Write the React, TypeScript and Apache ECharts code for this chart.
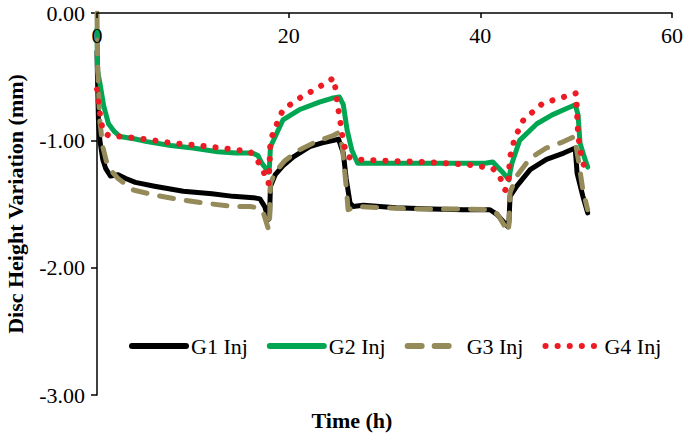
import React, { useEffect, useRef } from "react";
import * as echarts from "echarts";

const FONT = "Liberation Serif";

const xTicks = [0, 20, 40, 60];
const yTicks = [0, -1, -2, -3];

const g1Time = [0, 0.05, 0.15, 0.3, 0.6, 0.9, 1.4, 2.2, 3.0, 4.0, 6, 9, 12, 14.2, 16.3, 17.0, 17.5, 17.9, 18.0, 18.1, 18.6, 19.4, 20.5, 22.2, 23.5, 24.7, 25.2, 25.7, 26.0, 26.4, 26.7, 27.8, 31.2, 35, 38.2, 41.0, 41.7, 42.9, 43.0, 43.1, 43.8, 45.2, 46.9, 48.7, 49.9, 50.1, 50.7, 51.2];
const g1Values = [-0.3, -0.5, -0.84, -1.0, -1.15, -1.22, -1.28, -1.27, -1.3, -1.33, -1.36, -1.4, -1.42, -1.44, -1.45, -1.46, -1.52, -1.62, -1.6, -1.36, -1.27, -1.2, -1.13, -1.05, -1.02, -1.0, -0.99, -1.1, -1.3, -1.49, -1.52, -1.51, -1.53, -1.54, -1.545, -1.545, -1.58, -1.68, -1.62, -1.44, -1.36, -1.23, -1.15, -1.1, -1.06, -1.26, -1.44, -1.57];

const g2Time = [0, 0.05, 0.3, 0.7, 1.2, 1.8, 2.4, 4, 5.2, 7.7, 10, 12.6, 14.5, 16.2, 16.8, 17.2, 17.6, 17.9, 18.0, 18.1, 18.6, 19.4, 21.1, 23.2, 24.5, 25.3, 25.7, 26.1, 26.6, 27.2, 30, 34, 38, 39.6, 40.5, 41.3, 42.2, 43.0, 43.1, 43.3, 44.1, 45.9, 47.5, 48.7, 49.9, 50.2, 50.4, 50.8, 51.2];
const g2Values = [-0.12, -0.45, -0.55, -0.73, -0.87, -0.93, -0.97, -0.99, -1.01, -1.04, -1.06, -1.09, -1.1, -1.1, -1.12, -1.18, -1.22, -1.25, -1.2, -1.05, -0.97, -0.84, -0.76, -0.7, -0.67, -0.66, -0.72, -0.92, -1.08, -1.18, -1.18, -1.18, -1.18, -1.18, -1.18, -1.17, -1.24, -1.31, -1.25, -1.18, -1.0, -0.87, -0.8, -0.76, -0.72, -0.8, -1.02, -1.12, -1.21];

const g3Time = [0, 0.05, 0.15, 0.3, 0.6, 1.0, 1.5, 2.2, 3.8, 6, 9, 12, 14.2, 16.0, 16.8, 17.4, 17.9, 18.0, 18.1, 18.6, 19.6, 21, 22.6, 24.0, 24.7, 25.2, 25.6, 26.0, 26.2, 27.0, 30, 34, 38, 41.0, 41.8, 42.9, 43.0, 43.1, 43.8, 45.2, 46.9, 48.7, 49.8, 50.2, 50.7, 51.2];
const g3Values = [0, -0.3, -0.6, -0.85, -1.05, -1.17, -1.24, -1.3, -1.39, -1.43, -1.47, -1.5, -1.52, -1.52, -1.53, -1.58, -1.7, -1.66, -1.34, -1.25, -1.16, -1.08, -1.02, -0.98, -0.96, -0.94, -1.05, -1.36, -1.545, -1.52, -1.53, -1.54, -1.54, -1.545, -1.58, -1.72, -1.65, -1.41, -1.28, -1.14, -1.06, -1.01, -0.97, -1.14, -1.39, -1.545];

const g4Time = [0, 0.1, 0.4, 0.7, 1.4, 2.5, 5, 7.7, 10.5, 14.2, 16, 16.7, 17.4, 17.9, 18.0, 18.1, 18.6, 19.4, 21.1, 23.2, 24.7, 24.9, 25.3, 25.5, 25.7, 26.2, 27.0, 30, 34, 38.6, 41.3, 42.0, 42.6, 42.9, 43.1, 43.6, 44.5, 46.5, 48.7, 50.0, 50.2, 50.6, 51.1];
const g4Values = [-0.6, -0.66, -0.85, -0.94, -0.97, -0.97, -0.99, -1.02, -1.04, -1.07, -1.09, -1.15, -1.25, -1.34, -1.2, -1.0, -0.9, -0.76, -0.67, -0.58, -0.51, -0.6, -0.82, -0.9, -1.02, -1.13, -1.15, -1.16, -1.17, -1.19, -1.22, -1.28, -1.39, -1.35, -1.13, -0.98, -0.84, -0.71, -0.66, -0.63, -0.96, -1.15, -1.26];

const seriesNames = ["G1 Inj", "G2 Inj", "G3 Inj", "G4 Inj"];

const pair = (t: number[], v: number[]) => t.map((x, i) => [x, v[i]]);

export default function App() {
  const ref = useRef<HTMLDivElement>(null);
  useEffect(() => {
    if (!ref.current) return;
    const chart = echarts.init(ref.current, null, { renderer: "svg" });
    chart.setOption({
      animation: false,
      backgroundColor: "#ffffff",
      textStyle: { fontFamily: FONT },
      grid: { left: 97, top: 13, right: 14, bottom: 46, containLabel: false },
      xAxis: {
        type: "value",
        position: "top",
        z: 10,
        min: xTicks[0],
        max: xTicks[xTicks.length - 1],
        interval: 20,
        axisLine: { show: true, onZero: false, lineStyle: { color: "#000", width: 1.5 } },
        axisTick: { show: true, inside: true, length: 5, lineStyle: { color: "#000", width: 1.5 } },
        axisLabel: {
          inside: true,
          margin: 11,
          color: "#000",
          fontFamily: FONT,
          fontSize: 22,
        },
        splitLine: { show: false },
      },
      yAxis: {
        type: "value",
        min: yTicks[yTicks.length - 1],
        max: yTicks[0],
        interval: 1,
        axisLine: { show: true, onZero: false, lineStyle: { color: "#000", width: 1.5 } },
        axisTick: { show: true, inside: false, length: 6, lineStyle: { color: "#000", width: 1.5 } },
        axisLabel: {
          margin: 12,
          color: "#000",
          fontFamily: FONT,
          fontSize: 22,
          formatter: (v: number) => v.toFixed(2),
        },
        splitLine: { show: false },
      },
      legend: {
        data: seriesNames,
        left: 124,
        top: 330,
        itemWidth: 54,
        itemHeight: 14,
        itemGap: 19,
        itemStyle: { opacity: 0 },
        lineStyle: { width: 6 },
        textStyle: { color: "#000", fontFamily: FONT, fontSize: 22 },
      },
      graphic: [
        {
          type: "text",
          x: 15,
          y: 204,
          rotation: Math.PI / 2,
          style: {
            text: "Disc Height Variation (mm)",
            fontFamily: FONT,
            fontWeight: "bold",
            fontSize: 22,
            fill: "#000",
            align: "center",
            verticalAlign: "middle",
          },
        },
        {
          type: "text",
          x: 352,
          y: 420,
          style: {
            text: "Time (h)",
            fontFamily: FONT,
            fontWeight: "bold",
            fontSize: 22,
            fill: "#000",
            align: "center",
            verticalAlign: "middle",
          },
        },
      ],
      series: [
        {
          name: seriesNames[0],
          type: "line",
          data: pair(g1Time, g1Values),
          symbol: "none",
          lineStyle: { color: "#000000", width: 5, cap: "round", join: "round" },
          itemStyle: { color: "#000000" },
        },
        {
          name: seriesNames[1],
          type: "line",
          data: pair(g2Time, g2Values),
          symbol: "none",
          lineStyle: { color: "#00a651", width: 5, cap: "round", join: "round" },
          itemStyle: { color: "#00a651" },
        },
        {
          name: seriesNames[2],
          type: "line",
          data: pair(g3Time, g3Values),
          symbol: "none",
          lineStyle: { color: "#948a5a", width: 5, type: [14, 13], cap: "round", join: "round" },
          itemStyle: { color: "#948a5a" },
        },
        {
          name: seriesNames[3],
          type: "line",
          data: pair(g4Time, g4Values),
          symbol: "none",
          lineStyle: { color: "#ed1c24", width: 6, type: [0.1, 12], cap: "round", join: "round" },
          itemStyle: { color: "#ed1c24" },
        },
      ],
    });
    return () => chart.dispose();
  }, []);
  return (
    <div
      ref={ref}
      style={{ position: "fixed", left: 0, top: 0, width: 686, height: 441, background: "#fff" }}
    />
  );
}
